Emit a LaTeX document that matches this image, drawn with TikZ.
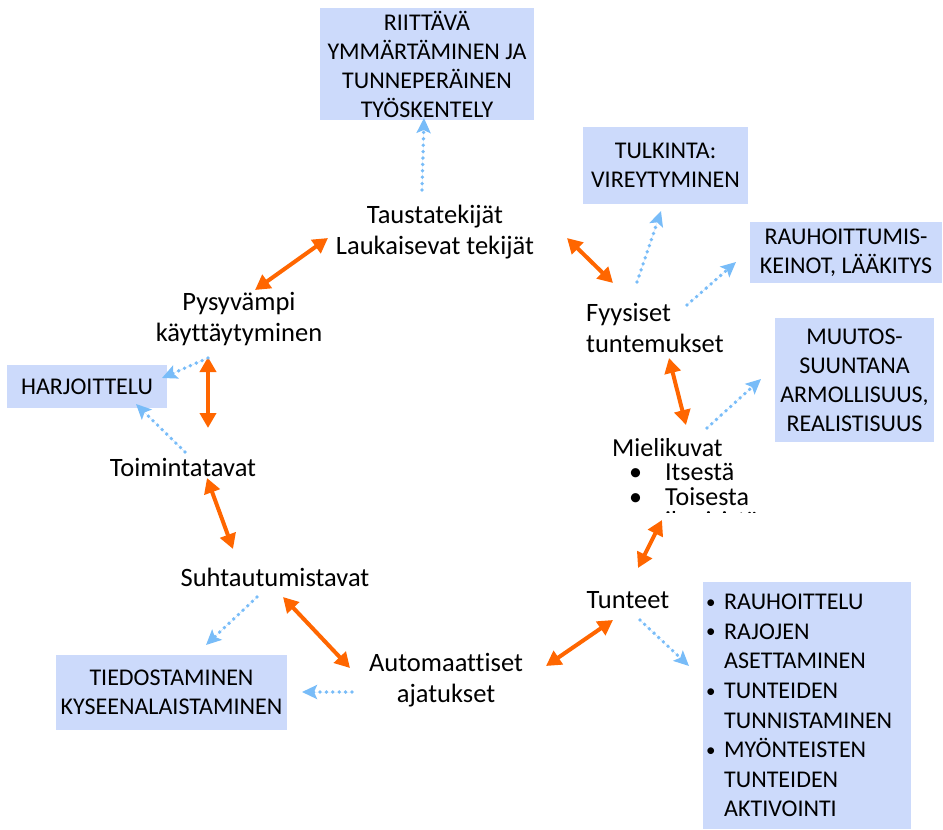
\documentclass[tikz,border=0pt]{standalone}
\usepackage{fontspec}
\setmainfont{Carlito}[Ligatures=NoCommon]
\usetikzlibrary{arrows.meta}
\definecolor{boxfill}{RGB}{204,218,251}
\definecolor{orangearr}{RGB}{255,102,0}
\definecolor{bluedot}{RGB}{120,188,248}
\newcommand{\kbul}{\makebox[18pt][l]{\fontsize{19}{19}\selectfont\raisebox{1.5pt}{\textbullet}}}
\newcommand{\kgap}{\makebox[18pt][l]{}}
\tikzset{
  lbl/.style={inner sep=0pt, align=center, font=\fontsize{26.5}{31}\selectfont, text=black},
  bluebox/.style={fill=boxfill, draw=none, inner sep=0pt, align=center, font=\fontsize{24}{29}\selectfont},
  oarrow/.style={draw=orangearr, line width=4pt, {Triangle[length=15pt,width=16pt]}-{Triangle[length=15pt,width=16pt]}, fill=orangearr},
  darrow/.style={draw=bluedot, line width=3.8pt, line cap=round, dash pattern=on 0pt off 6.4pt, -{Stealth[length=15pt,width=14pt,inset=3pt]}, fill=bluedot},
}
\begin{document}
\begin{tikzpicture}[x=1pt,y=-1pt]
\useasboundingbox (0,0) rectangle (943,830);
% blue boxes
\node[bluebox, minimum width=214pt, minimum height=112pt] (top) at (427,64) {RIITTÄVÄ\\YMMÄRTÄMINEN JA\\TUNNEPERÄINEN\\TYÖSKENTELY};
\node[bluebox, minimum width=165pt, minimum height=77pt] (tulk) at (665.5,165.5) {TULKINTA:\\VIREYTYMINEN};
\node[bluebox, minimum width=192pt, minimum height=61pt] (rauh) at (846,252.5) {RAUHOITTUMIS-\\KEINOT, LÄÄKITYS};
\node[bluebox, minimum width=159pt, minimum height=124pt] (muut) at (854.5,380) {MUUTOS-\\SUUNTANA\\ARMOLLISUUS,\\REALISTISUUS};
\node[bluebox, minimum width=160pt, minimum height=43pt] (harj) at (87,386.5) {HARJOITTELU};
\node[bluebox, minimum width=231pt, minimum height=75pt] (tied) at (171.5,692.5) {TIEDOSTAMINEN\\KYSEENALAISTAMINEN};
\node[bluebox, minimum width=208pt, minimum height=247pt] (keino) at (807,705.5) {};
\node[inner sep=0pt, anchor=north west, align=left, font=\fontsize{24}{29.6}\selectfont] (keinot) at (706,594)
 {\kbul RAUHOITTELU\\
  \kbul RAJOJEN\\
  \kgap ASETTAMINEN\\
  \kbul TUNTEIDEN\\
  \kgap TUNNISTAMINEN\\
  \kbul MYÖNTEISTEN\\
  \kgap TUNTEIDEN\\
  \kgap AKTIVOINTI};
% text nodes
\node[lbl] (taus) at (435,232) {Taustatekijät\\Laukaisevat tekijät};
\node[lbl] (pysy) at (239,319) {Pysyvämpi\\käyttäytyminen};
\node[lbl] (toim) at (183,467) {Toimintatavat};
\node[lbl] (suht) at (275,577) {Suhtautumistavat};
\node[lbl] (auto) at (446,680) {Automaattiset\\ajatukset};
\node[lbl] (tunt) at (628,600) {Tunteet};
\node[lbl, align=left, anchor=west] (fyys) at (586,328) {Fyysiset\\tuntemukset};
\begin{scope}
\clip (560,420) rectangle (800,512);
\node[inner sep=0pt, anchor=north west, align=left, font=\fontsize{26}{24.5}\selectfont] (miel) at (612,438)
 {Mielikuvat\\
  \hspace*{17pt}\makebox[36pt][l]{\textbullet}Itsestä\\
  \hspace*{17pt}\makebox[36pt][l]{\textbullet}Toisesta\\
  \hspace*{17pt}\makebox[36pt][l]{}ihmisistä};
\end{scope}
% connector end points
\coordinate (o1a) at (328,238); \coordinate (o1b) at (255,290);
\coordinate (o2a) at (567,238); \coordinate (o2b) at (613,283);
\coordinate (o3a) at (208,357); \coordinate (o3b) at (208,428);
\coordinate (o4a) at (207,478); \coordinate (o4b) at (233,549);
\coordinate (o5a) at (283,597); \coordinate (o5b) at (350,668);
\coordinate (o6a) at (546,666); \coordinate (o6b) at (613,620);
\coordinate (o7a) at (638,568); \coordinate (o7b) at (662,520);
\coordinate (o8a) at (669,358); \coordinate (o8b) at (686,425);
\coordinate (b1a) at (422,190); \coordinate (b1b) at (424,118);
\coordinate (b2a) at (637,282); \coordinate (b2b) at (661,211);
\coordinate (b3a) at (687,305); \coordinate (b3b) at (736,262);
\coordinate (b4a) at (707,428); \coordinate (b4b) at (761,379);
\coordinate (b5a) at (208,358); \coordinate (b5b) at (162,378);
\coordinate (b6a) at (185,452); \coordinate (b6b) at (136,404);
\coordinate (b7a) at (257,597); \coordinate (b7b) at (206,645);
\coordinate (b8a) at (352,692); \coordinate (b8b) at (302,692);
\coordinate (b9a) at (640,620); \coordinate (b9b) at (689,666);
% orange arrows
\foreach \i in {1,...,8} { \draw[oarrow] (o\i a) -- (o\i b); }
% blue dotted arrows
\foreach \i in {1,...,9} { \draw[darrow] (b\i a) -- (b\i b); }
\end{tikzpicture}
\end{document}
